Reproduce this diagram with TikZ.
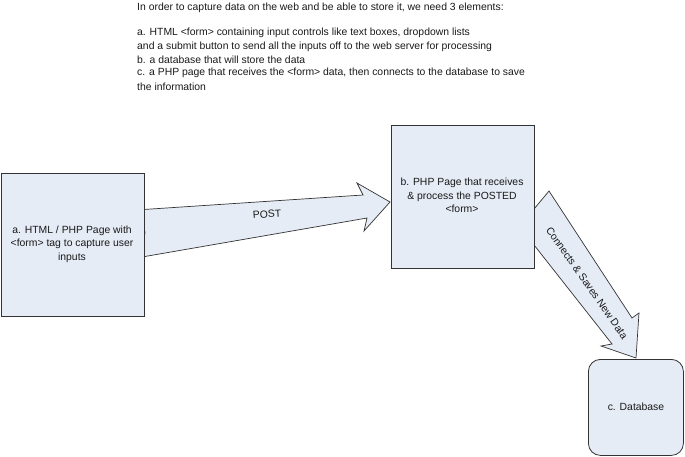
\documentclass[tikz,border=0pt]{standalone}
\usepackage{fontspec}
\setmainfont{Liberation Sans}
\begin{document}
\begin{tikzpicture}[x=1pt,y=-1pt,
  every node/.style={font=\fontsize{10.4}{13.4}\selectfont, text=black!90},
  box/.style={draw=black!80, fill=boxfill, line width=0.8pt},
  blockarrow/.style={draw=black!80, fill=boxfill, line width=0.7pt, line join=miter},
  txt/.style={anchor=west, inner sep=0pt}]
\definecolor{boxfill}{HTML}{E6ECF6}
\useasboundingbox (0,0) rectangle (685,456);
% intro text
\node[txt] (t1) at (137,8) {In order to capture data on the web and be able to store it, we need 3 elements:};
\node[txt] (t2) at (137,33) {a. HTML <form> containing input controls like text boxes, dropdown lists};
\node[txt] (t3) at (137,46.5) {and a submit button to send all the inputs off to the web server for processing};
\node[txt] (t4) at (137,60) {b. a database that will store the data};
\node[txt] (t5) at (137,73) {c. a PHP page that receives the <form> data, then connects to the database to save};
\node[txt] (t6) at (137,86.5) {the information};
% block arrows
\draw[blockarrow] (136,210) -- (363,195) -- (357,183) -- (390,202) -- (364,231) -- (367,218) -- (142,257) -- (145,232) -- cycle;
\node[rotate=4] (post) at (267,214) {POST};
\draw[blockarrow] (549,191) -- (632,318) -- (639,313) -- (636,358) -- (601,346) -- (612,344) -- (512,217) -- (534,209) -- cycle;
\node[rotate=-55, inner sep=0pt] (conn) at (587,283) {Connects \& Saves New Data};
% boxes
\node[box, minimum width=143.5pt, minimum height=143pt, anchor=north west] (a) at (0.5,173) {};
\node[align=center] (atext) at (72,244) {a. HTML / PHP Page with\\<form> tag to capture user\\inputs};
\node[box, minimum width=143pt, minimum height=143pt, anchor=north west] (b) at (391,125) {};
\node[align=center] (btext) at (462,195.5) {b. PHP Page that receives\\\& process the POSTED\\<form>};
\node[box, rounded corners=12pt, minimum width=95pt, minimum height=96pt, anchor=north west] (c) at (588,359) {};
\node (ctext) at (636,407) {c. Database};
\end{tikzpicture}
\end{document}
